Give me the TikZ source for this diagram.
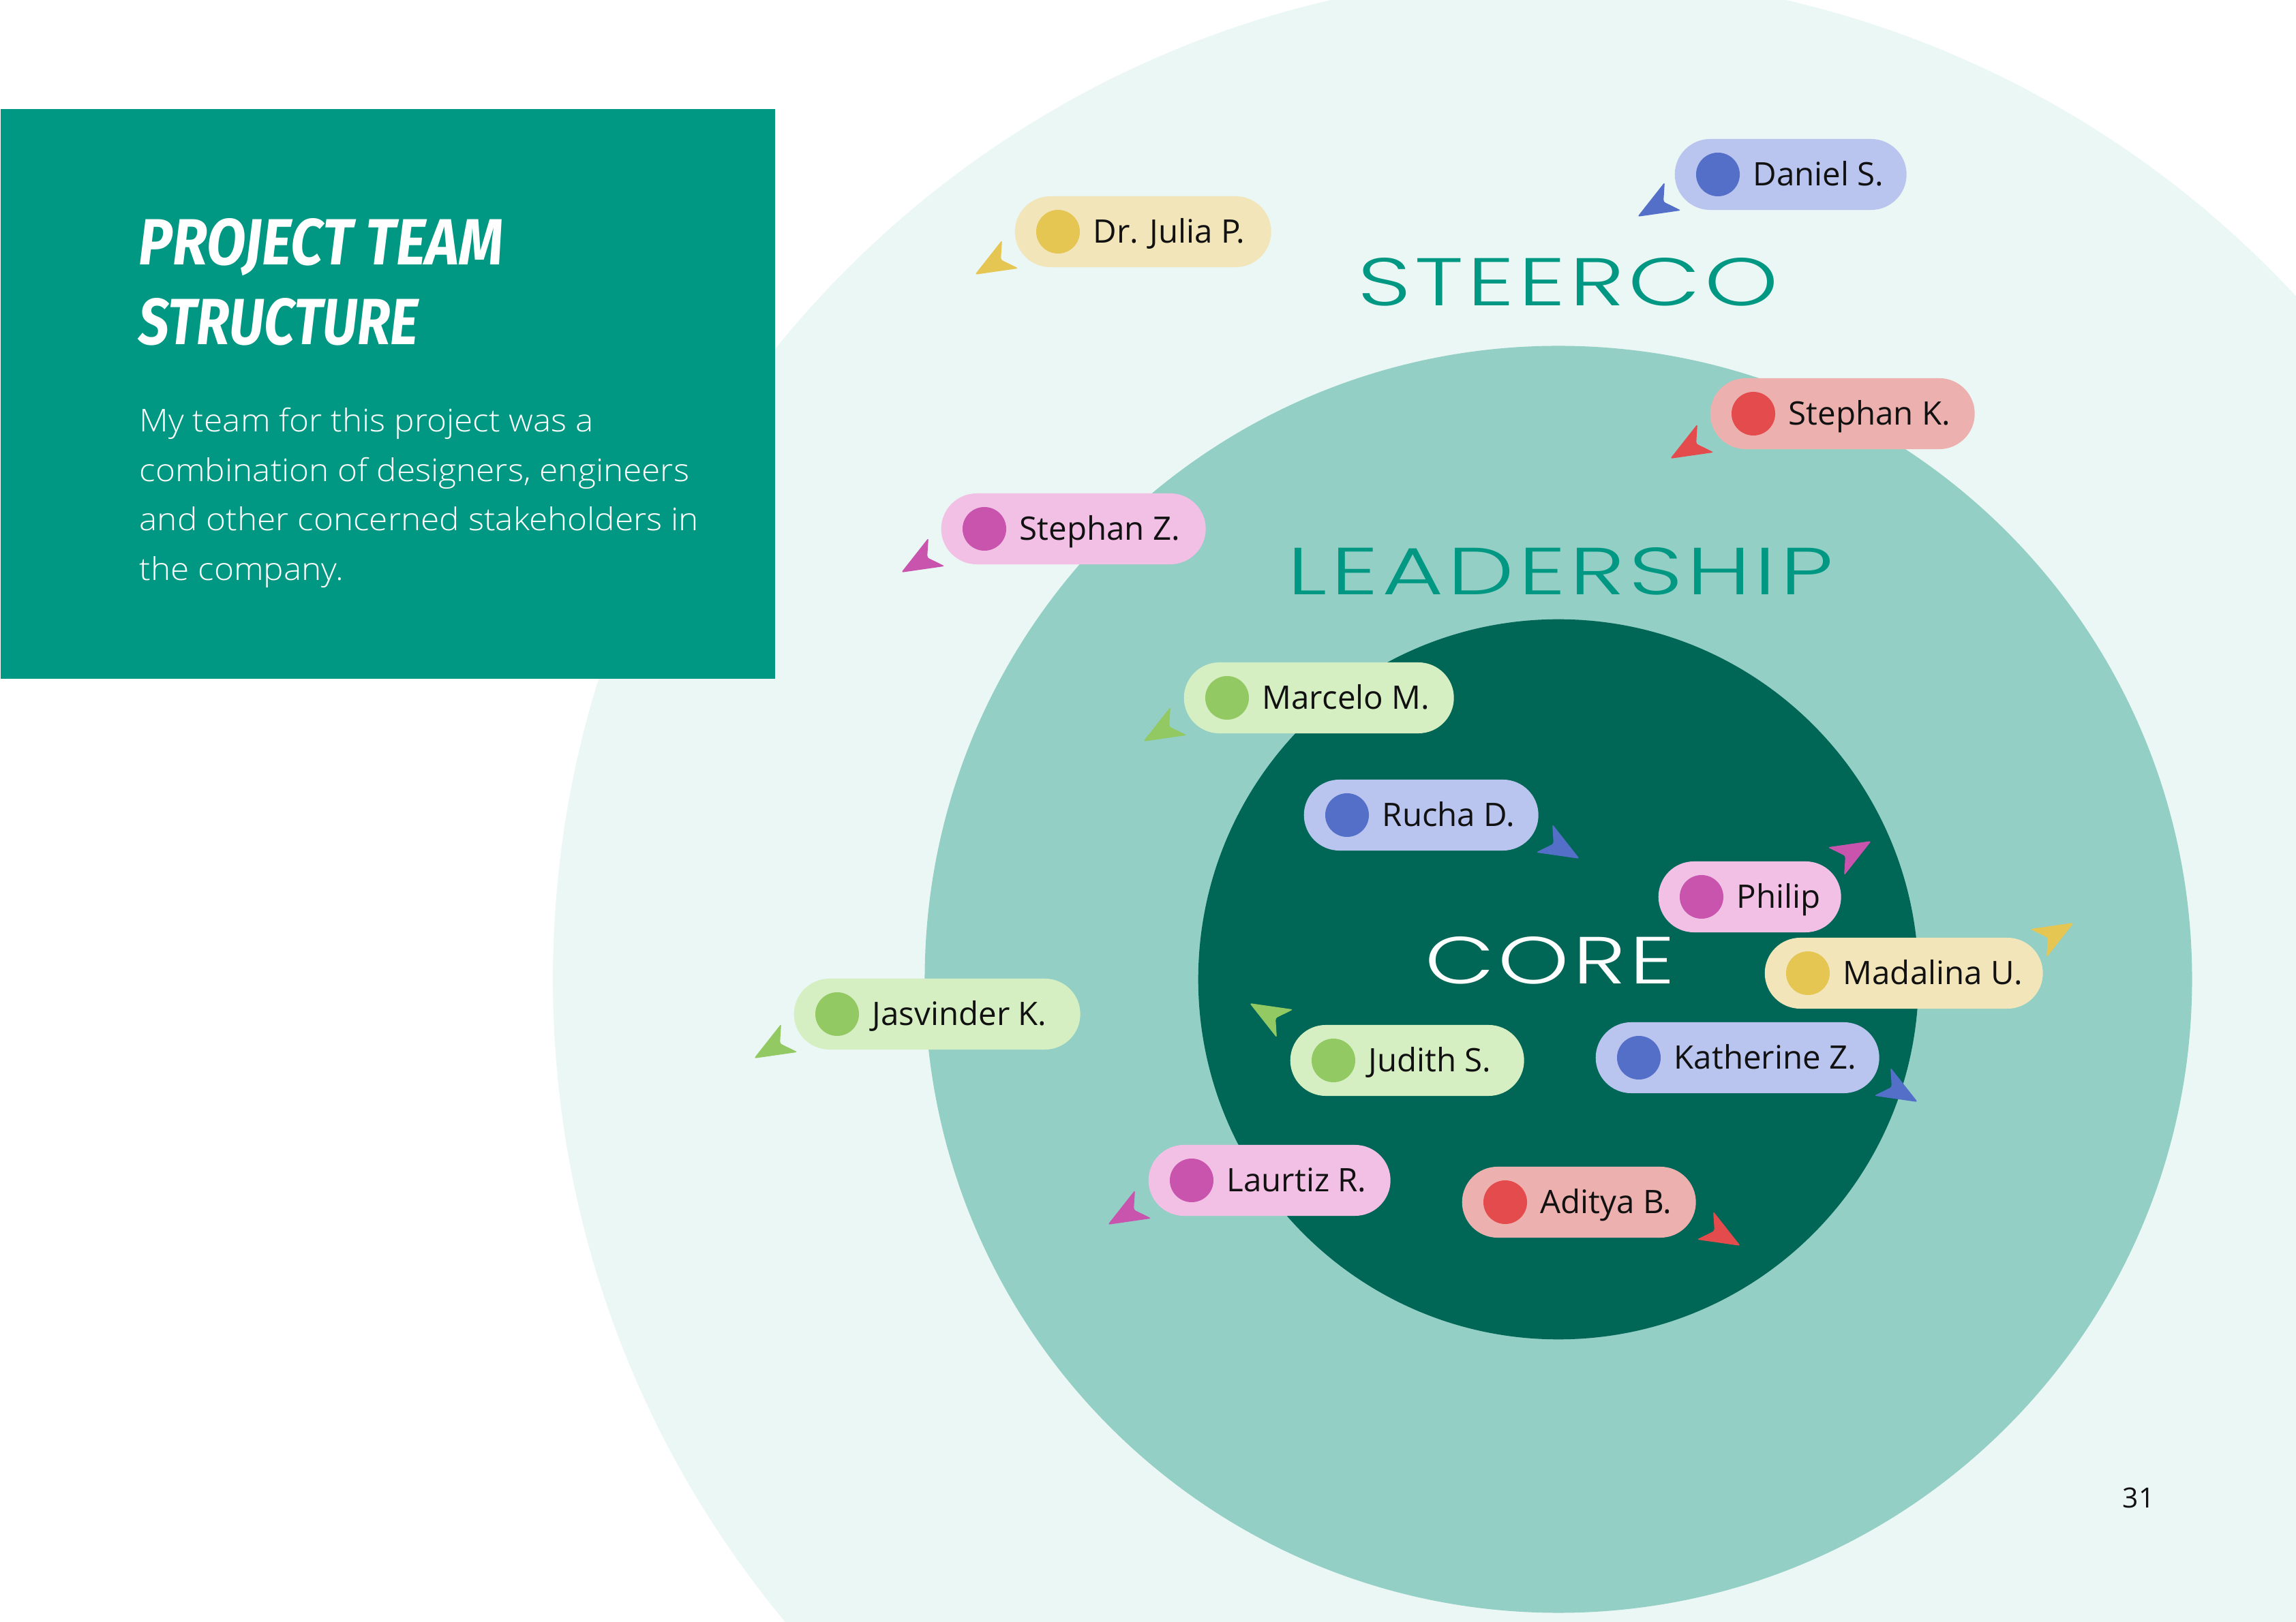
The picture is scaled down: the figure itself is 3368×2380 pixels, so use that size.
\documentclass[tikz,border=0pt]{standalone}
\usepackage{fontspec}
\setmainfont{Open Sans}
\newfontfamily\titlefont{Fira Sans}
\IfFontExistsTF{Poppins Light}
  {\newfontfamily\ringfont{Poppins Light}[LetterSpace=4]}
  {\newfontfamily\ringfont{Poppins}[LetterSpace=4]}
\IfFontExistsTF{Open Sans Light}
  {\newfontfamily\parafont{Open Sans Light}}
  {\newfontfamily\parafont{Open Sans}}
\usetikzlibrary{shapes.misc,calc}

\definecolor{bgout}{HTML}{EBF7F4}
\definecolor{leadc}{HTML}{94CFC6}
\definecolor{corec}{HTML}{006656}
\definecolor{titlebg}{HTML}{009883}
\definecolor{teal}{HTML}{009883}
\definecolor{labeltext}{HTML}{111111}
\definecolor{yl}{HTML}{F2E5B9}
\definecolor{yd}{HTML}{E6C652}
\definecolor{bl}{HTML}{B9C5EF}
\definecolor{bd}{HTML}{546FC8}
\definecolor{rl}{HTML}{ECB0AF}
\definecolor{rd}{HTML}{E44B4C}
\definecolor{pl}{HTML}{F2BFE5}
\definecolor{pd}{HTML}{C854AE}
\definecolor{gl}{HTML}{D6EFC2}
\definecolor{gd}{HTML}{93C963}

% #1 id, #2 left x, #3 centre y, #4 width, #5 light, #6 dark, #7 text
\newcommand{\person}[7]{%
  \node[pillbox, fill=#5, minimum width=#4*0.01cm, anchor=west] (#1) at (#2,#3) {};
  \fill[#6] ($(#1.west)+(64,0)$) circle[radius=0.32cm];
  \node[lbl] (#1t) at ($(#1.west)+(115,17)$) {#7};
}
\newcommand{\paraline}[1]{\scalebox{1.075}[1]{#1}}
% ring text: #1 width, #2 height, #3 text
\newcommand{\ringtext}[3]{\resizebox{#1}{#2}{\fontsize{28pt}{32pt}\ringfont #3}}

\begin{document}
\begin{tikzpicture}[x=0.01cm,y=-0.01cm,
  pillbox/.style={rounded rectangle, minimum height=1.04cm, inner sep=0pt, draw=none},
  lbl/.style={anchor=base west, inner sep=0pt, text=labeltext, font=\fontsize{13.5pt}{16pt}\selectfont},
  para/.style={anchor=base west, inner sep=0pt, text=white, font=\fontsize{13.1pt}{16pt}\parafont},
  ringlabel/.style={anchor=base, inner sep=0pt},
  cursor/.pic={\fill[rounded corners=0.03cm] (0,0) -- (60,24) -- (44,0) -- (60,-24) -- cycle;}
]
\useasboundingbox (0,0) rectangle (3368,2380);
\begin{scope}
  \clip (0,0) rectangle (3368,2380);
  \fill[white] (0,0) rectangle (3368,2380);
  \fill[bgout] (2286,1437) circle[radius=14.74cm];
  \fill[leadc] (2286,1437) circle[radius=9.29cm];
  \fill[corec] (2286,1437) circle[radius=5.28cm];
\end{scope}

% title box
\node[fill=titlebg, minimum width=11.36cm, minimum height=8.36cm, anchor=north west, inner sep=0pt] (box) at (0,159) {};
\node[anchor=base west, inner sep=0pt, text=white] (t1) at (203,389) {\resizebox{5.34cm}{0.68cm}{\titlefont\bfseries\itshape PROJECT TEAM}};
\node[anchor=base west, inner sep=0pt, text=white] (t2) at (203,506) {\resizebox{4.10cm}{0.68cm}{\titlefont\bfseries\itshape STRUCTURE}};
\node[para] (p1) at (204,634) {\paraline{My team for this project was a}};
\node[para] (p2) at (204,707) {\paraline{combination of designers, engineers}};
\node[para] (p3) at (204,779) {\paraline{and other concerned stakeholders in}};
\node[para] (p4) at (204,852) {\paraline{the company.}};

% ring labels
\node[ringlabel, text=teal] (steerco) at (2300,449) {\ringtext{6.17cm}{0.70cm}{STEERCO}};
\node[ringlabel, text=teal] (leadership) at (2289,873) {\ringtext{8.00cm}{0.69cm}{LEADERSHIP}};
\node[ringlabel, text=white] (core) at (2274,1444) {\ringtext{3.67cm}{0.69cm}{CORE}};

% people
\person{daniel}{2456}{256}{340}{bl}{bd}{Daniel S.}
\person{julia}{1488}{340}{376}{yl}{yd}{Dr. Julia P.}
\person{stephk}{2508}{607}{388}{rl}{rd}{Stephan K.}
\person{stephz}{1380}{776}{388}{pl}{pd}{Stephan Z.}
\person{marcelo}{1736}{1024}{396}{gl}{gd}{Marcelo M.}
\person{rucha}{1912}{1196}{344}{bl}{bd}{Rucha D.}
\person{philip}{2432}{1316}{268}{pl}{pd}{Philip}
\person{madalina}{2588}{1428}{408}{yl}{yd}{Madalina U.}
\person{judith}{1892}{1556}{343}{gl}{gd}{Judith S.}
\person{katherine}{2340}{1552}{416}{bl}{bd}{Katherine Z.}
\person{jasvinder}{1164}{1488}{420}{gl}{gd}{Jasvinder K.}
\person{laurtiz}{1684}{1732}{355}{pl}{pd}{Laurtiz R.}
\person{aditya}{2144}{1764}{343}{rl}{rd}{Aditya B.}

% cursors
\pic[rotate=30, bd] (danielc) at (2402,318) {cursor};
\pic[rotate=30, yd] (juliac) at (1430,403) {cursor};
\pic[rotate=30, rd] (stephkc) at (2450,673) {cursor};
\pic[rotate=30, pd] (stephzc) at (1322,840) {cursor};
\pic[rotate=30, gd] (marceloc) at (1677,1088) {cursor};
\pic[rotate=150, bd] (ruchac) at (2317,1260) {cursor};
\pic[rotate=210, pd] (philipc) at (2745,1234) {cursor};
\pic[rotate=210, yd] (madalinac) at (3042,1354) {cursor};
\pic[rotate=-30, gd] (judithc) at (1833,1472) {cursor};
\pic[rotate=150, bd] (katherinec) at (2813,1617) {cursor};
\pic[rotate=30, gd] (jasvinderc) at (1106,1553) {cursor};
\pic[rotate=30, pd] (laurtizc) at (1625,1797) {cursor};
\pic[rotate=150, rd] (adityac) at (2553,1828) {cursor};

% page number
\node[anchor=base, inner sep=0pt, text=labeltext, font=\fontsize{11.6pt}{14pt}\selectfont] (pagenum) at (3137,2212) {31};
\end{tikzpicture}
\end{document}
